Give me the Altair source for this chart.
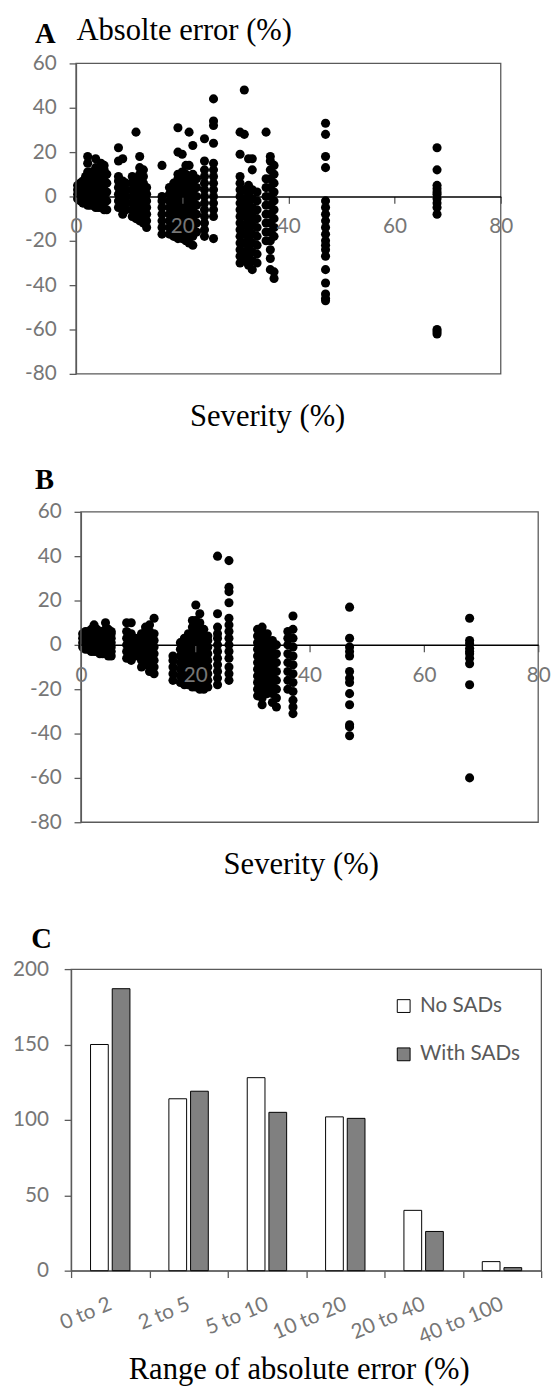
import altair as alt
import pandas as pd

# ---------------- Panel A : severity columns and absolute errors ----------------
A_SEVERITY = [0.3, 0.8, 1.3, 1.8, 2.2, 2.7, 3.2, 3.7, 4.2, 4.7, 5.3, 5.8,
              8.0, 8.8, 9.4, 10.6, 11.3, 12.0, 12.7, 13.3, 16.2,
              17.6, 18.4, 19.2, 20.0, 20.7, 21.3, 22.0, 22.7, 24.2, 25.9,
              30.9, 31.7, 32.5, 33.2, 34.1, 35.8, 36.6, 37.3, 47.0, 68.0]
A_ERROR = [
    [-1, 1, 3, 5],
    [-2, 0, 2, 4, 6],
    [-3, -1, 1, 3, 5, 7],
    [-3, 0, 3, 6, 9],
    [-4, -1, 2, 5, 8, 11, 15, 18],
    [-4, -1, 2, 5, 8, 11],
    [-4, -1, 2, 5, 8, 10],
    [-5, -2, 1, 4, 7, 10, 13, 17],
    [-5, -2, 1, 4, 7, 10],
    [-5, -2, 1, 4, 7, 10, 12, 15],
    [-6, -3, 0, 3, 6, 9, 12, 14],
    [-6, -2, 2, 6, 10],
    [-5, -2, 1, 4, 7, 9, 16, 22],
    [-8, -5, -2, 1, 4, 7, 17],
    [-6, -3, 0, 3, 6],
    [-9, -6, -3, 0, 3, 6, 9],
    [-10, -7, -4, -1, 2, 5, 8, 29],
    [-11, -8, -5, -2, 1, 4, 7, 10, 13, 18],
    [-12, -9, -6, -3, 0, 3, 6, 9, 12],
    [-14, -11, -8, -5, -2, 1, 4],
    [-17, -14, -11, -8, -5, -2, 0, 14],
    [-17, -14, -11, -8, -5, -2, 1, 4],
    [-18, -15, -12, -9, -6, -3, 0, 3, 6],
    [-19, -16, -13, -10, -7, -4, -1, 2, 5, 8, 10, 20, 31],
    [-19, -16, -13, -10, -7, -4, -1, 2, 5, 8, 11, 19],
    [-20, -17, -14, -11, -8, -5, -2, 1, 4, 7, 10, 14],
    [-21, -18, -15, -12, -9, -6, -3, 0, 3, 6, 9, 14, 29],
    [-22, -18, -14, -10, -6, -2, 2, 6, 10, 23],
    [-16, -12, -8, -4, 0, 4, 8],
    [-18, -15, -12, -9, -6, -3, 0, 3, 6, 9, 12, 16, 26],
    [-19, -9, -6, -3, 0, 3, 6, 9, 12, 15, 24, 32, 34, 44],
    [-30, -27, -24, -21, -18, -15, -12, -9, -6, -3, 0, 3, 6, 9, 19, 29],
    [-29, -25, -21, -17, -13, -9, -5, -1, 3, 28, 48],
    [-31, -27, -23, -19, -15, -11, -7, -3, 1, 5, 17],
    [-33, -29, -25, -21, -17, -13, -9, -5, -1, 3, 12, 17],
    [-30, -26, -22, -18, -14, -10, -6, -2, 2],
    [-20, -16, -12, -8, -4, 0, 4, 8, 29],
    [-33, -28, -24, -20, -16, -12, -8, -4, 0, 4, 8, 12, 16, 18],
    [-37, -34, -18, -14, -10, -6, -2, 2, 6, 10, 14],
    [33, 28, 18, 13, -2, -5, -8, -11, -14, -17, -20, -22, -24, -27, -33, -39, -44, -46, -47],
    [22, 12, 5, 3.5, 2, 1, -1, -3, -5, -8, -60, -61, -62],
]

# ---------------- Panel B : severity columns and absolute errors ----------------
B_SEVERITY = [0.3, 0.8, 1.3, 1.8, 2.3, 2.8, 3.3, 3.8, 4.3, 4.8, 5.3,
              8.0, 8.8, 9.5, 10.6, 11.3, 12.0, 12.8, 16.1,
              17.4, 18.1, 18.8, 19.5, 20.1, 20.8, 21.5, 22.2, 23.9, 25.9,
              30.9, 31.7, 32.6, 33.5, 34.2, 36.2, 37.1, 47.0, 68.0]
B_ERROR = [
    [-1, 1, 3, 5],
    [-2, 0, 2, 4, 6],
    [-2, 0, 2, 4, 6],
    [-3, -1, 1, 3, 5, 7],
    [-3, -1, 1, 3, 5, 7, 9],
    [-3, -1, 1, 3, 5, 7],
    [-4, -2, 0, 2, 4, 6],
    [-4, -2, 0, 2, 4, 6],
    [-4, -2, 0, 2, 4, 7, 10],
    [-5, -3, -1, 1, 3, 5, 7],
    [-5, -3, -1, 1, 3, 5, 6],
    [-6, -3, 0, 3, 6, 10],
    [-7, -4, -1, 2, 5, 10],
    [-5, -2, 1, 3],
    [-10, -7, -4, -1, 2, 5],
    [-9, -6, -3, 0, 3, 6, 8],
    [-12, -9, -6, -3, 0, 3, 6, 9],
    [-13, -10, -7, -4, -1, 2, 5, 12],
    [-16, -13, -10, -7, -5],
    [-17, -14, -11, -8, -5, -2, 1],
    [-18, -15, -12, -9, -6, -3, 0, 3],
    [-18, -15, -12, -9, -6, -3, 0, 3, 5],
    [-19, -16, -13, -10, -7, -4, -1, 2, 5, 8, 11],
    [-19, -16, -13, -10, -7, -4, -1, 2, 5, 8, 11, 18],
    [-20, -17, -14, -11, -8, -5, -2, 1, 4, 7, 10, 14],
    [-20, -17, -14, -11, -8, -5, -2, 1, 4, 7],
    [-19, -16, -13, -10, -7, -4, -1, 2, 4],
    [-18, -15, -12, -9, -6, -3, 0, 3, 5, 8, 14, 40],
    [-16, -13, -10, -6, -3, 0, 3, 6, 9, 12, 19, 24, 26, 38],
    [-23, -20, -17, -14, -11, -8, -5, -2, 1, 4, 7],
    [-27, -24, -21, -18, -15, -12, -9, -6, -3, 0, 3, 6, 8],
    [-22, -19, -16, -13, -10, -7, -4, -1, 2, 5],
    [-26, -22, -19, -16, -13, -10, -7, -4, -1, 2],
    [-28, -24, -20, -16, -12, -8, -4, 0],
    [-20, -16, -12, -8, -4, 0, 3, 6],
    [-31, -28, -25, -21, -17, -13, -9, -5, -1, 3, 7, 13],
    [17, 3, -1, -3, -5, -12, -15, -17, -22, -27, -36, -37, -41],
    [12, 2, 0.5, -1.5, -3, -4, -6, -8.5, -18, -60],
]

# ---------------- Panel C : counts per error range ----------------
C_RANGES = ["0 to 2", "2 to 5", "5 to 10", "10 to 20", "20 to 40", "40 to 100"]
C_SERIES = ["No SADs", "With SADs"]
C_NO_SADS = [150, 114, 128, 102, 40, 6]
C_WITH_SADS = [187, 119, 105, 101, 26, 2]

X_TICKS = [0, 20, 40, 60, 80]
Y_TICKS = [-80, -60, -40, -20, 0, 20, 40, 60]
C_Y_TICKS = [0, 50, 100, 150, 200]

SERIF = "Liberation Serif"
SANS = "Lato"
LABEL_GRAY = "#767676"
LINE_GRAY = "#5a5a5a"
TICK_FS = 21
POINT_SIZE = 85


def scatter_frame(sev, err):
    rows = [{"severity": s, "error": e} for s, es in zip(sev, err) for e in es]
    return pd.DataFrame(rows)


def scatter_panel(sev, err, width, view_h, plot_h, x0, zero_offset,
                  letter, letter_x, letter_y, xtitle_x, top_title=""):
    df = scatter_frame(sev, err)
    x_scale = alt.Scale(domain=[0, 80], range=[x0, width], nice=False, zero=False)
    y_scale = alt.Scale(domain=[-80, 60], range=[plot_h, 0], nice=False, zero=False)
    x_axis = alt.Axis(
        orient="bottom", offset=zero_offset, values=X_TICKS, labelExpr="datum.value",
        grid=False, domainColor="black", domainWidth=1.5,
        tickColor=LINE_GRAY, tickSize=7, tickWidth=1.3,
        labelFont=SANS, labelFontSize=TICK_FS, labelColor=LABEL_GRAY,
        labelPadding=13, labelFlush=False, labelOverlap=False,
        title="Severity (%)", titleFont=SERIF, titleFontSize=31,
        titleFontWeight="normal", titleColor="black",
        titleX=xtitle_x, titleY=232, titleAlign="center",
        titleBaseline="alphabetic", zindex=1)
    y_axis = alt.Axis(
        orient="left", offset=-x0, values=Y_TICKS, labelExpr="datum.value",
        grid=False, domainColor=LINE_GRAY, domainWidth=1.3,
        tickColor=LINE_GRAY, tickSize=7, tickWidth=1.3,
        labelFont=SANS, labelFontSize=TICK_FS, labelColor=LABEL_GRAY,
        labelPadding=13, labelOverlap=False,
        title=letter, titleFont=SERIF, titleFontSize=29, titleFontWeight="bold",
        titleColor="black", titleAngle=0, titleX=letter_x, titleY=letter_y,
        titleAlign="left", titleBaseline="alphabetic")
    pts = alt.Chart(df).mark_circle(size=POINT_SIZE, color="black", opacity=1).encode(
        x=alt.X("severity:Q", scale=x_scale, axis=x_axis),
        y=alt.Y("error:Q", scale=y_scale, axis=y_axis),
    )
    top_axis = alt.Axis(
        orient="top", labels=False, ticks=False, domain=False, grid=False,
        title=top_title if top_title else " ", titleFont=SERIF, titleFontSize=31,
        titleFontWeight="normal", titleColor="black", titleX=x0, titleY=-24,
        titleAlign="left", titleBaseline="alphabetic")
    frame = alt.Chart(pd.DataFrame({"f": [0]})).mark_rect(
        fillOpacity=0, stroke=LINE_GRAY, strokeWidth=1.3).encode(
        x=alt.XDatum(0, type="quantitative", axis=top_axis),
        x2=alt.X2Datum(80),
        y=alt.YDatum(-80, type="quantitative"),
        y2=alt.Y2Datum(60),
    )
    return alt.layer(pts, frame).resolve_axis(x="independent").properties(
        width=width, height=view_h)


panel_a = scatter_panel(A_SEVERITY, A_ERROR, width=436, view_h=315, plot_h=315,
                        x0=5, zero_offset=-180, letter="A", letter_x=-42,
                        letter_y=-21, xtitle_x=199, top_title="Absolte error (%)")
panel_b = scatter_panel(B_SEVERITY, B_ERROR, width=474, view_h=324, plot_h=315,
                        x0=10, zero_offset=-189, letter="B", letter_x=-47,
                        letter_y=-24, xtitle_x=233)

df_c = pd.DataFrame({
    "range": C_RANGES * 2,
    "series": [C_SERIES[0]] * len(C_RANGES) + [C_SERIES[1]] * len(C_RANGES),
    "count": C_NO_SADS + C_WITH_SADS,
})

panel_c = alt.Chart(df_c).mark_bar(stroke="black", strokeWidth=1).encode(
    x=alt.X("range:N", sort=C_RANGES,
            scale=alt.Scale(paddingInner=0, paddingOuter=0),
            axis=alt.Axis(
                tickBand="extent", labelAngle=-23, labelAlign="right",
                labelBaseline="middle", grid=False,
                domainColor=LINE_GRAY, domainWidth=1.3,
                tickColor=LINE_GRAY, tickSize=7, tickWidth=1.3,
                labelFont=SANS, labelFontSize=TICK_FS, labelColor=LABEL_GRAY,
                labelPadding=26,
                title="Range of absolute error (%)", titleFont=SERIF,
                titleFontSize=31, titleFontWeight="normal", titleColor="black",
                titleX=231, titleY=109, titleAlign="center",
                titleBaseline="alphabetic")),
    xOffset=alt.XOffset("series:N", sort=C_SERIES,
                        scale=alt.Scale(paddingInner=0.182, paddingOuter=0.898)),
    y=alt.Y("count:Q", scale=alt.Scale(domain=[0, 200], nice=False),
            axis=alt.Axis(
                values=C_Y_TICKS, grid=False, domainColor=LINE_GRAY,
                domainWidth=1.3, tickColor=LINE_GRAY, tickSize=7, tickWidth=1.3,
                labelFont=SANS, labelFontSize=TICK_FS, labelColor=LABEL_GRAY,
                labelPadding=16,
                title="C", titleFont=SERIF, titleFontSize=29,
                titleFontWeight="bold", titleColor="black", titleAngle=0,
                titleX=-41, titleY=-22, titleAlign="left",
                titleBaseline="alphabetic")),
    color=alt.Color("series:N", sort=C_SERIES,
                    scale=alt.Scale(domain=C_SERIES, range=["#ffffff", "#808080"]),
                    legend=alt.Legend(
                        orient="none", legendX=327, legendY=27, title=None,
                        symbolType="square", symbolSize=169,
                        symbolStrokeColor="black", symbolStrokeWidth=1,
                        labelFont=SANS, labelFontSize=21, labelColor="#595959",
                        labelOffset=6, rowPadding=27, padding=0)),
).properties(width=477, height=306,
             view=alt.ViewBackground(stroke=LINE_GRAY, strokeWidth=1.3))

chart = alt.vconcat(panel_a, panel_b, panel_c, spacing=140, bounds="flush").resolve_legend(
    color="independent"
).properties(
    autosize=alt.AutoSizeParams(type="none"),
    padding={"left": 64, "top": 46, "right": 488, "bottom": 1345},
).configure_view(stroke="transparent")

chart.save("out.html", embed_options={"renderer": "svg", "actions": False})
